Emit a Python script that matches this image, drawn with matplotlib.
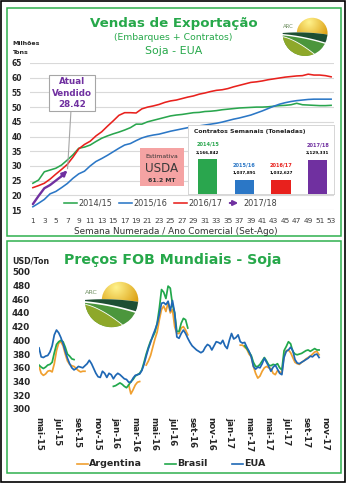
import numpy as np
import pandas as pd
import matplotlib
matplotlib.use("Agg")
import matplotlib.pyplot as plt
from matplotlib.patches import Rectangle, Circle, Polygon, FancyArrowPatch
from matplotlib.lines import Line2D

# ---------------- data ----------------
weeks = list(range(1, 54))
sales_1415 = [24.1, 25.2, 28.0, 28.6, 29.2, 30.3, 32.0, 33.8, 36.0, 36.4,
              37.1, 38.3, 39.4, 40.2, 40.9, 41.5, 42.2, 43.0, 44.2, 44.2,
              45.0, 45.5, 46.0, 46.5, 47.0, 47.3, 47.5, 47.8, 48.1, 48.2,
              48.5, 48.6, 48.8, 49.1, 49.3, 49.5, 49.7, 49.8, 49.9, 50.0,
              50.0, 50.1, 50.3, 50.5, 50.6, 50.8, 51.3, 50.8, 50.7, 50.6,
              50.5, 50.5, 50.6]
sales_1516 = [16.1, 17.3, 18.6, 20.5, 21.3, 22.6, 24.0, 25.8, 27.3, 28.2,
              30.0, 31.5, 32.5, 33.6, 34.8, 36.0, 37.1, 37.6, 38.6, 39.5,
              40.1, 40.5, 40.8, 41.3, 41.8, 42.2, 42.6, 43.0, 43.3, 43.6,
              43.9, 44.2, 44.5, 44.9, 45.4, 45.9, 46.3, 46.8, 47.3, 48.0,
              48.7, 49.5, 50.3, 51.0, 51.5, 51.9, 52.2, 52.4, 52.6, 52.7,
              52.7, 52.7, 52.7]
sales_1617 = [22.6, 23.3, 24.1, 25.5, 27.2, 28.8, 30.5, 33.0, 35.8, 37.3,
              38.4, 40.2, 41.6, 43.5, 45.3, 47.2, 48.1, 48.1, 48.0, 49.4,
              50.0, 50.4, 50.9, 51.6, 52.1, 52.4, 52.9, 53.4, 53.8, 54.4,
              54.8, 55.3, 55.7, 55.9, 56.3, 56.9, 57.4, 57.9, 58.4, 58.6,
              58.9, 59.3, 59.6, 59.9, 60.2, 60.4, 60.6, 60.7, 61.2, 60.9,
              60.9, 60.7, 60.3]
sales_1718 = [17.0, 19.8, 22.4, 23.5, 25.0, 26.5, 28.42]
current_sold = 28.42
usda_estimate = 61.2

contract_years = ["2014/15", "2015/16", "2016/17", "2017/18"]
contract_tons = [2166842, 1037891, 1032627, 2129331]

N = np.nan
price_start = "2015-05-01"
price_argentina = ([362, 352, 349, 351, 355, 356, 354, 366, 385, 396, 398, 392,
                    380, 370, 365, 363, 362, 359, 356, 354, 355, 355]
                   + [N] * 19
                   + [335, 322, 328, 335, 339, 340]
                   + [N] * 2
                   + [364, 370, 378, 390, 402, 412, 430, 445, 450, 442, 455,
                      440, 445, 420, 410, 410, 418, 420, 415, 408]
                   + [N] * 23
                   + [393, 393, 390, 387, 380, 376, 362, 352, 345, 348, 355,
                      360, 362, 360, 359, 352, 350, 356, 354, 352, 378, 385,
                      386, 382, 375, 368, 366, 365, 368, 370, 373, 375, 377,
                      380, 383, 384, 379])
price_brasil = ([364, 361, 359, 361, 364, 365, 368, 382, 394, 398, 400, 398,
                 390, 380, 377, 373, 372]
                + [N] * 17
                + [333, 334, 336, 338, 336, 333, 331, 335, 340, 343, 348, 350,
                   352, 357, 368, 380, 390, 399, 405, 412, 425, 447, 474, 470,
                   461, 479, 476, 452, 440, 413, 413, 425, 432, 430, 418]
                + [N] * 25
                + [392, 388, 383, 378, 368, 362, 362, 365, 370, 375, 370, 364,
                   363, 365, 364, 366, 360, 357, 385, 391, 398, 395, 384, 380,
                   379, 380, 381, 383, 385, 386, 384, 386, 388, 386, 386])
price_eua = [389, 376, 375, 377, 378, 383, 392, 408, 415, 411,
             404, 395, 384, 374, 366, 360, 357, 359, 362, 361,
             360, 363, 366, 371, 366, 359, 352, 347, 346, 355,
             352, 346, 352, 350, 344, 349, 352, 350, 347, 344,
             343, 339, 339, 345, 349, 350, 351, 356, 365, 377,
             388, 397, 407, 415, 424, 438, 454, 455, 452, 457,
             443, 458, 440, 405, 403, 410, 415, 410, 403, 397,
             392, 389, 386, 384, 382, 384, 390, 394, 392, 386,
             392, 398, 397, 395, 400, 392, 388, 400, 410, 402,
             404, 408, 398, 396, 397, 390, 384, 376, 362, 358,
             361, 360, 366, 374, 368, 362, 355, 361, 364, 358,
             352, 350, 375, 384, 386, 390, 385, 372, 367, 366,
             368, 370, 372, 374, 377, 376, 379, 380, 375]
price_dates = pd.date_range(price_start, periods=len(price_eua), freq="7D")
price_tick_labels = ["mai-15", "jul-15", "set-15", "nov-15", "jan-16", "mar-16",
                     "mai-16", "jul-16", "set-16", "nov-16", "jan-17", "mar-17",
                     "mai-17", "jul-17", "set-17", "nov-17"]
price_tick_dates = pd.date_range("2015-05-01", periods=len(price_tick_labels), freq="2MS")

# ---------------- styling ----------------
GREEN_T = "#26a84a"
C1415, C1516, C1617, C1718 = "#2aa64e", "#2b77c6", "#e8211d", "#7030a0"
C_ARG, C_BRA, C_EUA = "#f0a030", "#22a84c", "#1f68b5"
DARK = "#262626"

W, H = 348, 484
fig = plt.figure(figsize=(W / 100, H / 100), dpi=100)
fig.patch.set_facecolor("white")


def fx(x):
    return x / W


def fy(y):
    return 1 - y / H


def rect(x0, y0, x1, y1):
    return [fx(x0), fy(y1), fx(x1) - fx(x0), fy(y0) - fy(y1)]


# frames
fig.add_artist(Rectangle((fx(1), fy(482)), fx(344), fy(1) - fy(482),
                         transform=fig.transFigure, fill=False, ec="black", lw=1.2))
for (x0, y0, x1, y1) in [(6.7, 8, 340.7, 235.7), (6.7, 241, 340.7, 473.3)]:
    fig.add_artist(Rectangle((fx(x0), fy(y1)), fx(x1) - fx(x0), fy(y0) - fy(y1),
                             transform=fig.transFigure, fill=False, ec="#2fb04e", lw=1.1))


def draw_logo(cx, cy, s):
    """ARC emblem: sun over green fields, s = pixels per unit."""
    ax = fig.add_axes(rect(cx - 1.05 * s, cy - 1.05 * s, cx + 1.05 * s, cy + 1.05 * s))
    ax.set_xlim(-1.05, 1.05)
    ax.set_ylim(-1.05, 1.05)
    ax.set_aspect("equal")
    ax.axis("off")
    # sun with radial gradient
    yy, xx = np.mgrid[1.05:-1.05:200j, -1.05:1.05:200j]
    d = np.hypot(xx - 0.15, yy - 0.55)
    t = np.clip(d / 0.95, 0, 1)[..., None]
    c0 = np.array([1.0, 0.95, 0.55])
    c1 = np.array([0.85, 0.60, 0.03])
    img = c0 * (1 - t) + c1 * t
    sun = Circle((0.3, 0.12), 0.64, transform=ax.transData, fc="none", ec="none")
    ax.add_patch(sun)
    im = ax.imshow(img, extent=(-1.05, 1.05, -1.05, 1.05), zorder=1)
    im.set_clip_path(sun)
    # fields
    field_clip = Circle((0.0, 0.1), 0.93, transform=ax.transData, fc="none", ec="none")
    ax.add_patch(field_clip)
    xs = np.linspace(-1.1, 1.1, 60)
    top = 0.12 - 0.035 * (xs + 1) + 0.06 * (1 - xs ** 2)
    band_low = top - (0.03 + 0.17 * (xs + 1))
    bottom = np.full(xs.size, -1.2)

    def region(upper, lower, **kw):
        p = Polygon(np.column_stack([np.r_[xs, xs[::-1]], np.r_[upper, lower[::-1]]]),
                    closed=True, ec="none", **kw)
        ax.add_patch(p)
        p.set_clip_path(field_clip)
        return p

    region(top, bottom, fc="white", zorder=2)
    region(top, band_low, fc="#1d4f33", zorder=3)
    region(band_low - 0.06, bottom, fc="#4b963c", zorder=3)
    ol_top = -0.02 - 0.95 * np.clip((xs + 1.0) / 1.65, 0, None) ** 1.5
    p = region(ol_top, bottom, fc="#8ea82a", zorder=4)
    p.set_edgecolor("white")
    p.set_linewidth(0.6)
    ax.text(-0.7, 0.38, "ARC", fontsize=s * 0.16, color="#6f8f62", ha="center",
            va="center", zorder=5)


# ---------------- top chart: export sales ----------------
ax1 = fig.add_axes(rect(30, 63, 334, 210))
ax1.set_xlim(0.5, 53.5)
ax1.set_ylim(15, 65)
ax1.set_yticks(range(15, 66, 5))
ax1.set_xticks(weeks[::2])
ax1.yaxis.grid(True, color="#d9d9d9", lw=0.8)
ax1.set_axisbelow(True)
for sp in ax1.spines.values():
    sp.set_visible(False)
ax1.tick_params(axis="y", length=0, pad=5.8, labelsize=5.5, labelcolor=DARK)
ax1.tick_params(axis="x", length=0, pad=5.5, labelsize=5.3, labelcolor="#404040")
for lab in ax1.get_yticklabels():
    lab.set_fontweight("bold")

ax1.plot(weeks, sales_1415, color=C1415, lw=1.15)
ax1.plot(weeks, sales_1516, color=C1516, lw=1.15)
ax1.plot(weeks, sales_1617, color=C1617, lw=1.15)
w1718 = weeks[:len(sales_1718)]
ax1.plot(w1718[:-1] + [w1718[-1] - 0.3],
         sales_1718[:-1] + [sales_1718[-2] + (sales_1718[-1] - sales_1718[-2]) * 0.7],
         color=C1718, lw=1.7, solid_capstyle="round")
ax1.annotate("", xy=(w1718[-1], sales_1718[-1]), xytext=(w1718[-2], sales_1718[-2]),
             arrowprops=dict(arrowstyle="-|>", color=C1718, lw=1.7, mutation_scale=7,
                             shrinkA=0, shrinkB=0))

ax1.annotate(f"Atual\nVendido\n{current_sold:.2f}", xy=(w1718[-1] + 0.05, current_sold + 0.6),
             xytext=(72, H - 93), textcoords="figure pixels", ha="center", va="center",
             fontsize=6.3, fontweight="bold", color=C1718, linespacing=1.3,
             bbox=dict(boxstyle="square,pad=0.3", fc="white", ec="#a6a6a6", lw=0.8),
             arrowprops=dict(arrowstyle="-", color="#a6a6a6", lw=0.8, shrinkA=0, shrinkB=0))

# USDA estimate box
fig.add_artist(Rectangle((fx(140), fy(186)), fx(184) - fx(140), fy(148) - fy(186),
                         transform=fig.transFigure, fc="#f5a3a3", ec="none", zorder=5))
fig.text(fx(162), fy(156), "Estimativa", fontsize=4.4, color="#333333", ha="center",
         va="center", zorder=6)
fig.text(fx(162), fy(168.5), "USDA", fontsize=8.6, color="#3a3a3a", ha="center",
         va="center", zorder=6)
fig.text(fx(162), fy(180), f"{usda_estimate:.1f} MT", fontsize=4.4, fontweight="bold",
         color="#333333", ha="center", va="center", zorder=6)

# top legend
leg = [("2014/15", C1415, 64), ("2015/16", C1516, 119), ("2016/17", C1617, 174)]
for txt, col, x0 in leg:
    fig.add_artist(Line2D([fx(x0), fx(x0 + 13)], [fy(203), fy(203)], color=col, lw=1.15))
    fig.text(fx(x0 + 14), fy(203), txt, fontsize=5.9, color="#404040", ha="left", va="center")
fig.add_artist(FancyArrowPatch((fx(227), fy(203)), (fx(241), fy(203)),
                               transform=fig.transFigure, arrowstyle="-|>",
                               mutation_scale=7, color=C1718, lw=1.5))
fig.text(fx(243), fy(203), "2017/18", fontsize=5.9, color="#404040", ha="left", va="center")

# weekly contracts inset
axi = fig.add_axes(rect(188, 125, 334, 194))
axi.set_facecolor("white")
for sp in axi.spines.values():
    sp.set_color("#d0d0d0")
    sp.set_linewidth(0.6)
axi.set_xticks([])
axi.set_yticks([])
axi.set_xlim(-0.541, 3.448)
axi.set_ylim(274000, 4037000)
bar_cols = [C1415, C1516, C1617, C1718]
axi.bar(range(4), contract_tons, width=0.52, color=bar_cols)
for i, (yr, v) in enumerate(zip(contract_years, contract_tons)):
    axi.annotate(f"{v:,}", xy=(i, v), xytext=(0, 5), textcoords="offset points",
                 ha="center", va="center", fontsize=3.0, fontweight="bold", color="black")
    axi.annotate(yr, xy=(i, v), xytext=(0, 10.8), textcoords="offset points",
                 ha="center", va="center", fontsize=3.6, fontweight="bold", color=bar_cols[i])
fig.text(fx(194), fy(131.5), "Contratos Semanais (Toneladas)", fontsize=4.4,
         fontweight="bold", color="#222222", ha="left", va="center")

# titles
fig.text(fx(173.5), fy(23), "Vendas de Exportação", fontsize=9.6, fontweight="bold",
         color=GREEN_T, ha="center", va="center")
fig.text(fx(173), fy(38), "(Embarques + Contratos)", fontsize=6.7, color=GREEN_T,
         ha="center", va="center")
fig.text(fx(173.5), fy(51), "Soja - EUA", fontsize=7.9, color=GREEN_T,
         ha="center", va="center")
fig.text(fx(12), fy(43.5), "Milhões", fontsize=4.5, fontweight="bold", color=DARK,
         ha="left", va="center")
fig.text(fx(12), fy(53), "Tons", fontsize=4.5, fontweight="bold", color=DARK,
         ha="left", va="center")
fig.text(fx(176), fy(232), "Semana Numerada / Ano Comercial (Set-Ago)", fontsize=6.4,
         color="#333333", ha="center", va="center")

draw_logo(305, 36, 24)

# ---------------- bottom chart: FOB prices ----------------
ax2 = fig.add_axes(rect(39, 271.7, 325, 409))
ax2.plot(price_dates, price_argentina, color=C_ARG, lw=1.25)
ax2.plot(price_dates, price_brasil, color=C_BRA, lw=1.25)
ax2.plot(price_dates, price_eua, color=C_EUA, lw=1.25)
ax2.set_xlim(pd.Timestamp("2015-05-01"), pd.Timestamp("2017-11-01"))
ax2.set_ylim(300, 500)
ax2.set_yticks(range(300, 501, 20))
ax2.set_xticks(price_tick_dates)
ax2.set_xticklabels(price_tick_labels, rotation=-90, fontsize=6.3, fontweight="bold",
                    color=DARK, va="top", ha="center")
for lab in ax2.get_yticklabels():
    lab.set_fontweight("bold")
ax2.tick_params(axis="y", length=0, pad=6.3, labelsize=6.3, labelcolor=DARK)
ax2.tick_params(axis="x", length=0, pad=5.5)
for sp in ax2.spines.values():
    sp.set_visible(False)
ax2.patch.set_alpha(0)

fig.text(fx(172.5), fy(260), "Preços FOB Mundiais - Soja", fontsize=10.2,
         fontweight="bold", color=GREEN_T, ha="center", va="center")
fig.text(fx(12), fy(261), "USD/Ton", fontsize=5.7, fontweight="bold", color=DARK,
         ha="left", va="center")

for txt, col, x0 in [("Argentina", C_ARG, 77), ("Brasil", C_BRA, 165), ("EUA", C_EUA, 232)]:
    fig.add_artist(Line2D([fx(x0), fx(x0 + 11)], [fy(464), fy(464)], color=col, lw=1.2))
    fig.text(fx(x0 + 12), fy(464), txt, fontsize=6.8, fontweight="bold", color=DARK,
             ha="left", va="center")

draw_logo(111.5, 303.5, 28.5)

fig.savefig("out.png", dpi=100)
